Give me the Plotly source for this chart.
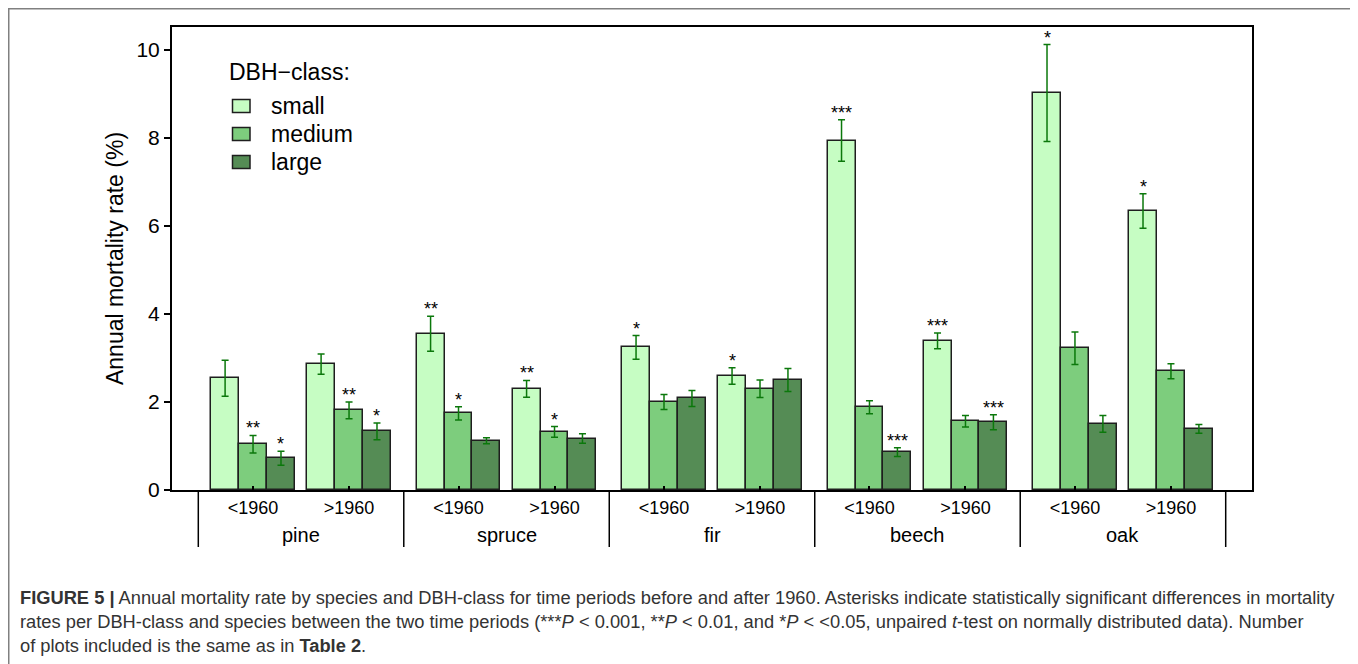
import plotly.graph_objects as go

# ---------------- data ----------------
species = ["pine", "spruce", "fir", "beech", "oak"]
periods = ["&lt;1960", "&gt;1960"]
classes = ["small", "medium", "large"]
legend_title = "DBH\u2212class:"

# values in order: pine<1960, pine>1960, spruce<1960, spruce>1960, ...
small = [2.54, 2.86, 3.55, 2.30, 3.24, 2.59, 7.94, 3.39, 9.02, 6.34]
small_err = [0.41, 0.23, 0.40, 0.19, 0.27, 0.19, 0.47, 0.18, 1.10, 0.39]
medium = [1.04, 1.81, 1.74, 1.32, 2.00, 2.30, 1.88, 1.56, 3.22, 2.70]
medium_err = [0.20, 0.19, 0.15, 0.12, 0.17, 0.20, 0.15, 0.13, 0.37, 0.17]
large = [0.72, 1.33, 1.12, 1.17, 2.08, 2.50, 0.86, 1.54, 1.50, 1.39]
large_err = [0.16, 0.19, 0.07, 0.11, 0.18, 0.26, 0.10, 0.17, 0.19, 0.10]

small_sig = ["", "", "**", "**", "*", "*", "***", "***", "*", "*"]
medium_sig = ["**", "**", "*", "*", "", "", "", "", "", ""]
large_sig = ["*", "*", "", "", "", "", "***", "***", "", ""]

y_ticks = [0, 2, 4, 6, 8, 10]

caption_lines = [
    "<b>FIGURE 5 |</b> Annual mortality rate by species and DBH-class for time periods before and after 1960. "
    "Asterisks indicate statistically significant differences in mortality",
    "rates per DBH-class and species between the two time periods (***<i>P</i> &lt; 0.001, **<i>P</i> &lt; 0.01, "
    "and *<i>P</i> &lt; &lt;0.05, unpaired <i>t</i>-test on normally distributed data). Number",
    "of plots included is the same as in <b>Table 2</b>.",
]

# ---------------- styling / layout constants ----------------
colors = ["#c6fdc3", "#7dcd7d", "#558c55"]
err_color = "#0b780b"
period_off = [-0.2336, 0.2336]
class_off = [-0.136, 0.0, 0.136]
bar_w = 0.136
FONT = "Liberation Sans, Arial, sans-serif"

OFF = 8  # page body margin of the html page
W, H = 1358 - OFF, 664 - OFF
ML, MR, MT, MB = 172 - OFF, 106, 27 - OFF, 174
PW, PH = W - ML - MR, H - MT - MB


def px2paper_x(px):  # px given in page coordinates
    return (px - OFF - ML) / PW


def px2paper_y(py):
    return (H - MB - (py - OFF)) / PH


fig = go.Figure()

series = [(small, small_err, small_sig), (medium, medium_err, medium_sig), (large, large_err, large_sig)]
annotations = []
for ci, (vals, errs, sigs) in enumerate(series):
    xs = []
    for si in range(len(species)):
        for pi in range(len(periods)):
            xs.append(si + period_off[pi] + class_off[ci])
    fig.add_trace(go.Bar(
        x=xs, y=vals, width=bar_w, name=classes[ci], showlegend=False,
        marker=dict(color=colors[ci], line=dict(color="#1e1e1e", width=1.5)),
        error_y=dict(type="data", array=errs, visible=True, color=err_color, thickness=1.5, width=3.5),
    ))
    for x, v, e, s in zip(xs, vals, errs, sigs):
        if s:
            annotations.append(dict(
                x=x, y=v + e, xref="x", yref="y", text=s, showarrow=False,
                yanchor="bottom", yshift=-5, font=dict(size=18, color="black", family=FONT),
            ))

# species labels
for si, sp in enumerate(species):
    annotations.append(dict(
        x=si, y=px2paper_y(535), xref="x", yref="paper", text=sp, showarrow=False,
        yanchor="middle", font=dict(size=20, color="black", family=FONT),
    ))

# caption
cap_y = [597, 621, 645]
for line, py in zip(caption_lines, cap_y):
    annotations.append(dict(
        x=px2paper_x(18), y=px2paper_y(py), xref="paper", yref="paper", text=line,
        showarrow=False, xanchor="left", yanchor="middle", align="left",
        font=dict(size=18.3, color="#333333", family=FONT),
    ))

shapes = []
# group separators under axis
for k in range(len(species) + 1):
    shapes.append(dict(
        type="line", xref="x", yref="paper", x0=k - 0.5, x1=k - 0.5,
        y0=0, y1=px2paper_y(547), line=dict(color="black", width=1.5),
    ))
# outer frame
shapes.append(dict(
    type="rect", xref="paper", yref="paper",
    x0=px2paper_x(8.75), x1=px2paper_x(1355.5), y0=px2paper_y(690), y1=px2paper_y(8.75),
    line=dict(color="#808080", width=1.5), fillcolor="rgba(0,0,0,0)",
))

# legend (drawn as key boxes + text)
annotations.append(dict(
    x=px2paper_x(227), y=px2paper_y(72), xref="paper", yref="paper", text=legend_title,
    showarrow=False, xanchor="left", yanchor="middle", font=dict(size=23, color="black", family=FONT),
))
leg_rows = [106, 134, 162]
for ci, (name, py) in enumerate(zip(classes, leg_rows)):
    shapes.append(dict(
        type="rect", xref="paper", yref="paper",
        x0=px2paper_x(232.5), x1=px2paper_x(250), y0=px2paper_y(py + 6.5), y1=px2paper_y(py - 6.5),
        line=dict(color="#1e1e1e", width=1.5), fillcolor=colors[ci],
    ))
    annotations.append(dict(
        x=px2paper_x(269), y=px2paper_y(py), xref="paper", yref="paper", text=name,
        showarrow=False, xanchor="left", yanchor="middle", font=dict(size=23, color="black", family=FONT),
    ))

tickvals = [si + po for si in range(len(species)) for po in period_off]
ticktext = [p for _ in species for p in periods]

fig.update_layout(
    width=W, height=H,
    margin=dict(l=ML, r=MR, t=MT, b=MB),
    paper_bgcolor="white", plot_bgcolor="white",
    font=dict(family=FONT, color="black"),
    bargap=0, barmode="overlay",
    showlegend=False,
    xaxis=dict(
        range=[-0.628, 4.628], tickmode="array", tickvals=tickvals, ticktext=ticktext,
        ticks="inside", ticklen=4, tickwidth=1.5, tickcolor="black",
        tickfont=dict(size=18, family=FONT), showgrid=False, zeroline=False,
        showline=True, linecolor="black", linewidth=2, mirror=True,
    ),
    yaxis=dict(
        range=[0, 10.52], tickmode="array", tickvals=y_ticks,
        ticks="outside", ticklen=6, tickwidth=1.5, tickcolor="black",
        tickfont=dict(size=21, family=FONT), showgrid=False, zeroline=False,
        showline=True, linecolor="black", linewidth=2, mirror=True,
        title=dict(text="Annual mortality rate (%)", font=dict(size=23, family=FONT), standoff=6),
    ),
    annotations=annotations,
    shapes=shapes,
)

fig.write_html("out.html")
